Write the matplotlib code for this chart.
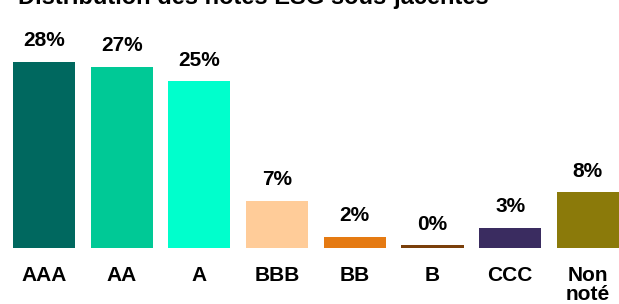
import matplotlib
matplotlib.use("Agg")
import matplotlib.pyplot as plt

plt.rcParams['font.family'] = ['Liberation Sans', 'DejaVu Sans']

title = "Distribution des notes ESG sous-jacentes"
categories = ["AAA", "AA", "A", "BBB", "BB", "B", "CCC", "Non\nnoté"]
values = [28.0, 27.3, 25.1, 7.1, 1.7, 0.4, 3.0, 8.4]
value_labels = ["28%", "27%", "25%", "7%", "2%", "0%", "3%", "8%"]
colors = ["#00685F", "#00C996", "#00FFCC", "#FFCC99", "#E57A12",
          "#7A3F0A", "#3A2C60", "#8B7A0A"]

W, H = 619, 304
fig = plt.figure(figsize=(W / 100, H / 100), dpi=100)
ax = fig.add_axes([0, 56 / H, 1, 248 / H])

x = list(range(len(categories)))
ax.bar(x, values, width=0.80, color=colors)
ax.set_xlim(-0.566, 7.40)
ax.set_ylim(0, 37.35)

for xi, v, lab in zip(x, values, value_labels):
    ax.annotate(lab, (xi, v), xytext=(0, 11.3), textcoords='offset points',
                ha='center', va='baseline', fontsize=15, fontweight='bold',
                color='black')

ax.set_xticks(x)
ax.set_xticklabels(categories, fontsize=15, fontweight='bold', linespacing=1.0)
ax.tick_params(axis='x', length=0, pad=13)
ax.set_yticks([])
for s in ax.spines.values():
    s.set_visible(False)

fig.text(18 / W, 1 - 4 / H, title, fontsize=17, fontweight='bold',
         ha='left', va='baseline', color='black')

fig.savefig("out.png", dpi=100)
